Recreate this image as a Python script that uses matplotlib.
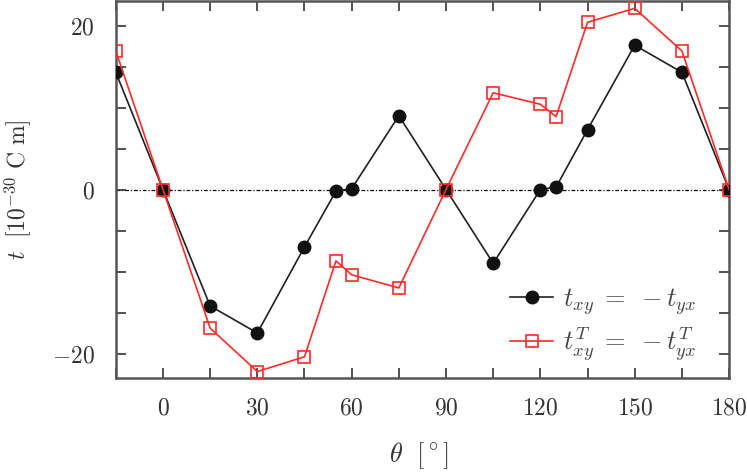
import matplotlib
matplotlib.use("Agg")
import matplotlib.pyplot as plt
from matplotlib.ticker import MultipleLocator

plt.rcParams['mathtext.fontset'] = 'cm'
plt.rcParams['font.family'] = ['DejaVu Serif']

theta = [-15, 0, 15, 30, 45, 55, 60, 75, 90, 105, 120, 125, 135, 150, 165, 180]
t_xy = [14.3, 0.0, -14.2, -17.5, -7.0, -0.2, 0.1, 9.0, 0.0, -9.0, 0.0, 0.3, 7.3, 17.6, 14.3, 0.0]
t_xy_T = [16.9, 0.0, -16.9, -22.2, -20.4, -8.7, -10.4, -12.0, 0.0, 11.8, 10.4, 8.9, 20.4, 22.1, 16.9, 0.0]

x_ticks = [0, 30, 60, 90, 120, 150, 180]
y_ticks = [-20, 0, 20]

fig = plt.figure(figsize=(7.47, 4.75), dpi=100)
ax = fig.add_axes([0.155, 0.204, 0.821, 0.794])

ax.axhline(0, color='black', lw=0.9, ls=(0, (3, 1.5, 1, 1.5)), zorder=1)
ax.plot(theta, t_xy, color='#202020', lw=1.2, marker='o', ms=9,
        mfc='#111111', mec='#111111', label=r'$t_{xy}\;=\;-t_{yx}$', zorder=3)
ax.plot(theta, t_xy_T, color='#ff2a2a', lw=1.2, marker='s', ms=8.5,
        mfc='none', mec='#ff2a2a', mew=1.2, label=r'$t^T_{xy}\;=\;-t^T_{yx}$', zorder=4)

ax.set_xlim(-15, 180)
ax.set_ylim(-23, 23)
ax.set_xticks(x_ticks)
ax.set_xticklabels([f'${v}$' for v in x_ticks])
ax.set_yticks(y_ticks)
ax.set_yticklabels([f'${v}$' if v >= 0 else f'$-{abs(v)}$' for v in y_ticks])
ax.xaxis.set_minor_locator(MultipleLocator(15))
ax.yaxis.set_minor_locator(MultipleLocator(5))
ax.tick_params(which='both', direction='in', top=True, right=True, labelsize=17, colors='#333333')
ax.tick_params(which='both', length=7, width=1.2)
ax.tick_params(axis='x', which='major', pad=13)
ax.tick_params(axis='y', which='major', pad=15)
for s in ax.spines.values():
    s.set_linewidth(1.8)
    s.set_color('#555555')

ax.set_xlabel(r'$\theta\ \ [^\circ]$', fontsize=19, color='#333333')
ax.set_ylabel(r'$t\ \ [10^{-30}\ \mathrm{C\ m}]$', fontsize=17, color='#333333')
ax.xaxis.set_label_coords(0.495, -0.165)
ax.yaxis.set_label_coords(-0.135, 0.5)

leg = ax.legend(loc='lower right', bbox_to_anchor=(0.955, 0.025), frameon=False,
                fontsize=19, handlelength=1.65, handletextpad=0.35,
                borderpad=0.2, borderaxespad=0, labelspacing=0.3)
for t in leg.get_texts():
    t.set_color('#444444')

fig.savefig('out.png', dpi=100)
